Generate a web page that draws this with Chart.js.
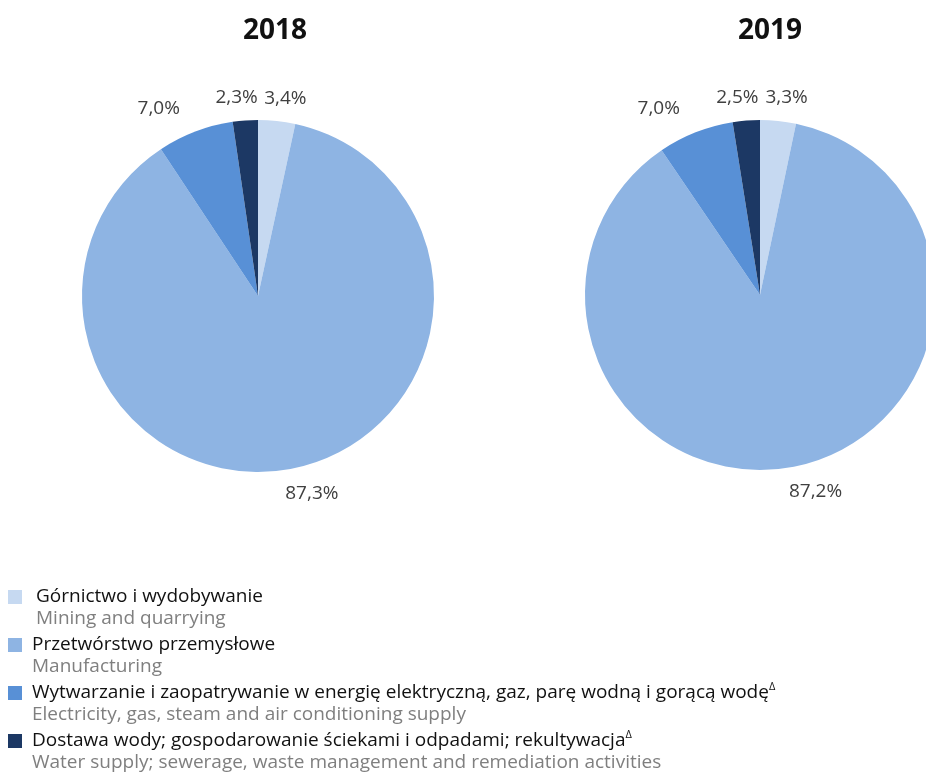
<!DOCTYPE html>
<html>
<head>
<meta charset="utf-8">
<script src="https://cdn.jsdelivr.net/npm/chart.js@4.4.1/dist/chart.umd.min.js"></script>
<style>
  html, body { margin: 0; padding: 0; background: #fff; width: 926px; height: 772px; overflow: hidden; }
  #wrap { position: relative; width: 926px; height: 772px; overflow: hidden; font-family: "Open Sans", "Noto Sans", sans-serif; }
  canvas { position: absolute; }
  .title { position: absolute; width: 200px; text-align: center; font-weight: bold; font-size: 28px; line-height: 32px; color: #111; }
  #legend { position: absolute; left: 0; top: 585px; }
  .item { position: relative; margin-bottom: 5px; padding-left: 32px; }
  .item.first { padding-left: 36px; }
  .sw { position: absolute; left: 8px; top: 5px; width: 14px; height: 14px; }
  .pl { font-size: 19px; line-height: 21.5px; color: #111; white-space: nowrap; }
  .en { font-size: 19px; line-height: 21.5px; color: #7f7f7f; white-space: nowrap; }
  sup { font-size: 11px; line-height: 0; vertical-align: 8px; }
</style>
</head>
<body>
<div id="wrap">
  <canvas id="c1" width="516" height="592" style="left:0px;top:0px;width:516px;height:592px"></canvas>
  <canvas id="c2" width="516" height="590" style="left:502px;top:0px;width:516px;height:590px"></canvas>
  <div class="title" id="t1" style="left:175px;top:12px"></div>
  <div class="title" id="t2" style="left:670px;top:12px"></div>
  <div id="legend"></div>
</div>
<script>
const years = ["2018", "2019"];
const categoriesPL = [
  "Górnictwo i wydobywanie",
  "Przetwórstwo przemysłowe",
  "Wytwarzanie i zaopatrywanie w energię elektryczną, gaz, parę wodną i gorącą wodę",
  "Dostawa wody; gospodarowanie ściekami i odpadami; rekultywacja"
];
const categoriesEN = [
  "Mining and quarrying",
  "Manufacturing",
  "Electricity, gas, steam and air conditioning supply",
  "Water supply; sewerage, waste management and remediation activities"
];
const footnoteMarks = ["", "", "Δ", "Δ"];
const values2018 = [3.4, 87.3, 7.0, 2.3];
const values2019 = [3.3, 87.2, 7.0, 2.5];
const colors = ["#c6d9f1", "#8eb4e3", "#5890d6", "#1c3864"];

// label placement tweaks (pixels), relative to a radial anchor
const labelNudges = [[6, 1], [17, 1], [-28, -1], [-7, 1]];

document.getElementById("t1").textContent = years[0];
document.getElementById("t2").textContent = years[1];

const legend = document.getElementById("legend");
categoriesPL.forEach((pl, i) => {
  const it = document.createElement("div");
  it.className = "item" + (i === 0 ? " first" : "");
  const sw = document.createElement("div");
  sw.className = "sw";
  sw.style.background = colors[i];
  it.appendChild(sw);
  const a = document.createElement("div");
  a.className = "pl";
  a.textContent = pl;
  if (footnoteMarks[i]) {
    const s = document.createElement("sup");
    s.textContent = footnoteMarks[i];
    a.appendChild(s);
  }
  const b = document.createElement("div");
  b.className = "en";
  b.textContent = categoriesEN[i];
  it.appendChild(a);
  it.appendChild(b);
  legend.appendChild(it);
});

const pctLabels = {
  id: "pctLabels",
  afterDatasetsDraw(chart) {
    const ctx = chart.ctx;
    const meta = chart.getDatasetMeta(0);
    const data = chart.data.datasets[0].data;
    ctx.save();
    ctx.font = "19px 'Open Sans', 'Noto Sans', sans-serif";
    ctx.fillStyle = "#404040";
    ctx.textAlign = "center";
    ctx.textBaseline = "middle";
    meta.data.forEach((arc, i) => {
      const p = arc.getProps(["x", "y", "startAngle", "endAngle", "outerRadius"], true);
      const mid = (p.startAngle + p.endAngle) / 2;
      const R = p.outerRadius + 24;
      const x = p.x + Math.cos(mid) * R + labelNudges[i][0];
      const y = p.y + Math.sin(mid) * R + labelNudges[i][1];
      ctx.fillText(data[i].toFixed(1).replace(".", ",") + "%", x, y);
    });
    ctx.restore();
  }
};

function makePie(id, values, radius) {
  return new Chart(document.getElementById(id), {
    type: "pie",
    data: {
      labels: categoriesPL,
      datasets: [{
        data: values,
        backgroundColor: colors,
        borderWidth: 0
      }]
    },
    options: {
      responsive: false,
      animation: false,
      radius: radius,
      plugins: { legend: { display: false }, tooltip: { enabled: false }, title: { display: false } }
    },
    plugins: [pctLabels]
  });
}

makePie("c1", values2018, 176);
makePie("c2", values2019, 175);
</script>
</body>
</html>
